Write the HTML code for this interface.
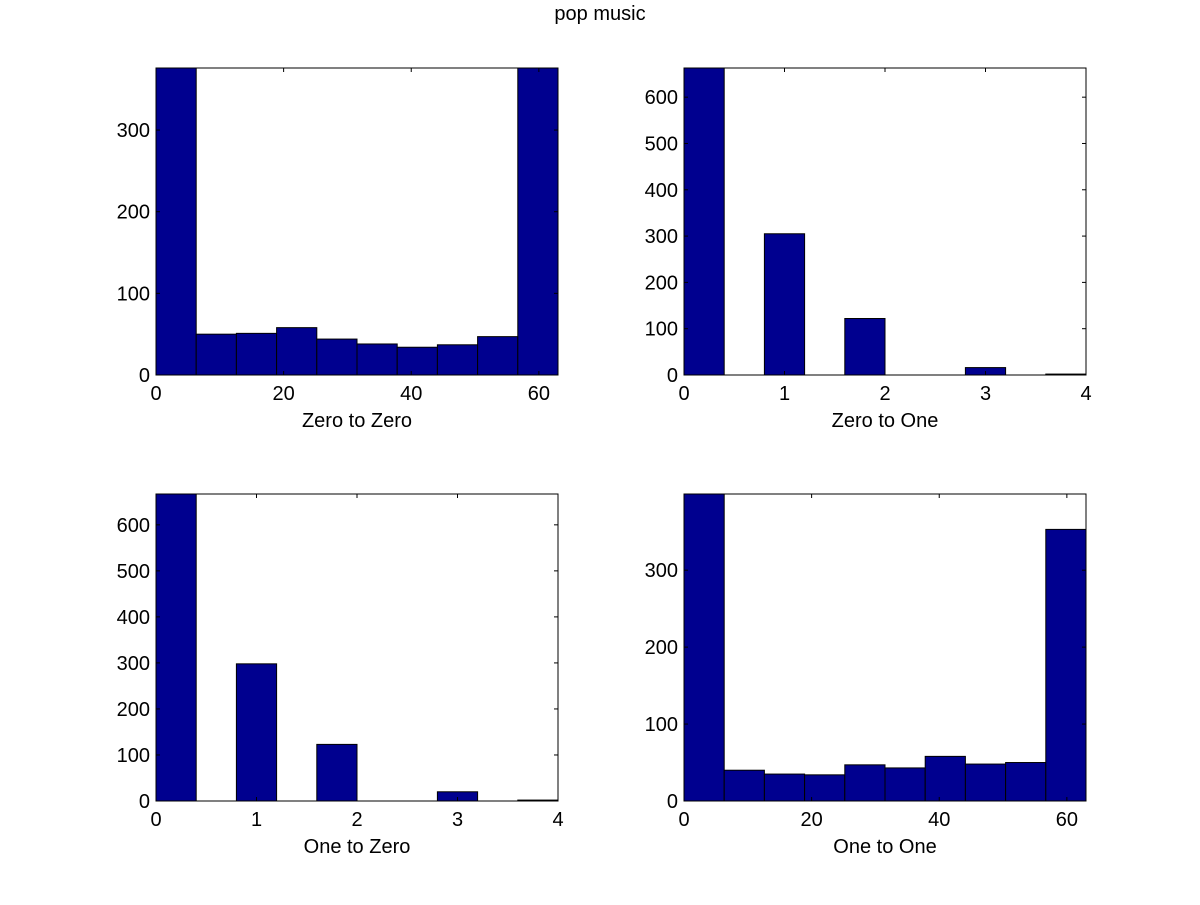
<!DOCTYPE html>
<html><head><meta charset="utf-8"><style>
body{margin:0;background:#fff;}
svg text{font-family:"Liberation Sans",sans-serif;fill:#000;}
</style></head><body>
<svg id="fig" width="1200" height="900">
<rect width="1200" height="900" fill="#fff"/>
<text x="600" y="20" font-size="20" text-anchor="middle">pop music</text>
</svg>
<script>
// Panel data (bin edges, counts, axis ranges, tick labels)
const zzEdges = [0,6.3,12.6,18.9,25.2,31.5,37.8,44.1,50.4,56.7,63];
const zzCounts = [400,50,51,58,44,38,34,37,47,400];
const zzTicksX = [0,20,40,60];
const zzTicksY = [0,100,200,300];
const zoEdges = [0,0.4,0.8,1.2,1.6,2.0,2.4,2.8,3.2,3.6,4.0];
const zoCounts = [700,0,305,0,122,0,0,16,0,2];
const zoTicksX = [0,1,2,3,4];
const zoTicksY = [0,100,200,300,400,500,600];
const ozEdges = [0,0.4,0.8,1.2,1.6,2.0,2.4,2.8,3.2,3.6,4.0];
const ozCounts = [700,0,298,0,123,0,0,20,0,2];
const ozTicksX = [0,1,2,3,4];
const ozTicksY = [0,100,200,300,400,500,600];
const ooEdges = [0,6.3,12.6,18.9,25.2,31.5,37.8,44.1,50.4,56.7,63];
const ooCounts = [420,40,35,34,47,43,58,48,50,353];
const ooTicksX = [0,20,40,60];
const ooTicksY = [0,100,200,300];
const panels = [
 {name:'zero-to-zero',label:'Zero to Zero',edges:zzEdges,counts:zzCounts,tx:zzTicksX,ty:zzTicksY,xmax:63,ymax:376,x0:156,y0:68},
 {name:'zero-to-one',label:'Zero to One',edges:zoEdges,counts:zoCounts,tx:zoTicksX,ty:zoTicksY,xmax:4,ymax:663,x0:684,y0:68},
 {name:'one-to-zero',label:'One to Zero',edges:ozEdges,counts:ozCounts,tx:ozTicksX,ty:ozTicksY,xmax:4,ymax:667,x0:156,y0:494},
 {name:'one-to-one',label:'One to One',edges:ooEdges,counts:ooCounts,tx:ooTicksX,ty:ooTicksY,xmax:63,ymax:399,x0:684,y0:494}
];
const NS='http://www.w3.org/2000/svg';
const svg=document.getElementById('fig');
function mk(tag,attrs,parent){const e=document.createElementNS(NS,tag);for(const k in attrs)e.setAttribute(k,attrs[k]);parent.appendChild(e);return e;}
const W=402,H=307;
panels.forEach(p=>{
 const g=mk('g',{},svg);
 
 
 const sx=v=>p.x0+v/p.xmax*W;
 const sy=v=>p.y0+H-Math.min(v,p.ymax)/p.ymax*H;
 const cp='clip-'+p.name;
 const cdef=mk('clipPath',{id:cp},g);
 mk('rect',{x:p.x0,y:p.y0,width:W,height:H},cdef);
 const bars=mk('g',{'clip-path':'url(#'+cp+')'},g);
 p.counts.forEach((c,i)=>{
  if(c<=0)return;
  const x1=sx(p.edges[i]),x2=sx(p.edges[i+1]),y=sy(c);
  const r=mk('rect',{x:x1,y:y,width:x2-x1,height:p.y0+H-y,fill:'#00008f',stroke:'#000','stroke-width':1},bars);
  
  
 });
 const box=mk('rect',{x:p.x0,y:p.y0,width:W,height:H,fill:'none',stroke:'#000','stroke-width':1},g);
 
 
 p.tx.forEach(t=>{
  const x=sx(t);
  mk('line',{x1:x,x2:x,y1:p.y0+H,y2:p.y0+H-4,stroke:'#000'},g);
  mk('line',{x1:x,x2:x,y1:p.y0,y2:p.y0+4,stroke:'#000'},g);
  const tl=mk('text',{x:x,y:p.y0+H+25,'font-size':20,'text-anchor':'middle'},g);
  tl.textContent=t;
  
  
 });
 p.ty.forEach(t=>{
  const y=sy(t);
  mk('line',{x1:p.x0,x2:p.x0+4,y1:y,y2:y,stroke:'#000'},g);
  mk('line',{x1:p.x0+W,x2:p.x0+W-4,y1:y,y2:y,stroke:'#000'},g);
  const tl=mk('text',{x:p.x0-6,y:y+7,'font-size':20,'text-anchor':'end'},g);
  tl.textContent=t;
  
  
 });
 const xl=mk('text',{x:p.x0+W/2,y:p.y0+H+52,'font-size':20,'text-anchor':'middle'},g);
 xl.textContent=p.label;
 
 
});
</script>
</body></html>
